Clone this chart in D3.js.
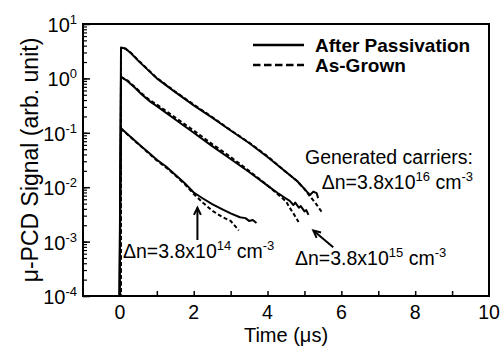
<!DOCTYPE html>
<html>
<head>
<meta charset="utf-8">
<script src="https://cdn.jsdelivr.net/npm/d3@7"></script>
<style>
  body { margin: 0; background: #fff; }
  text { font-family: "Liberation Sans", Arial, sans-serif; fill: #000; }
</style>
</head>
<body>
<div id="chart"></div>
<script>
// ---- data (time in us, signal in arb. unit) ----
// dn = 3.8e16 cm-3
var t16After = [-0.02, 0.03, 0.15, 0.3, 0.5, 0.75, 1.0, 1.5, 2.0, 2.5, 3.0, 3.5, 4.0, 4.5, 4.8, 5.0, 5.1, 5.15, 5.24, 5.33, 5.37];
var v16After = [1e-5, 3.7, 3.55, 2.9, 2.1, 1.45, 1.0, 0.56, 0.32, 0.19, 0.11, 0.065, 0.036, 0.019, 0.013, 0.0093, 0.0078, 0.0072, 0.0083, 0.0078, 0.0063];
var t16Grown = [0.02, 0.03, 0.15, 0.3, 0.5, 0.75, 1.0, 1.5, 2.0, 2.5, 3.0, 3.5, 4.0, 4.5, 4.8, 5.0, 5.15, 5.3, 5.47];
var v16Grown = [1e-5, 3.6, 3.5, 2.95, 2.15, 1.48, 1.02, 0.57, 0.33, 0.195, 0.112, 0.066, 0.037, 0.019, 0.013, 0.0092, 0.0068, 0.0051, 0.0035];

// dn = 3.8e15 cm-3
var t15After = [-0.02, 0.03, 0.2, 0.4, 0.6, 0.83, 1.0, 1.5, 2.0, 2.5, 3.0, 3.5, 4.0, 4.3, 4.5, 4.6, 4.7, 4.75, 4.85, 4.9, 5.0, 5.05, 5.11];
var v15After = [1e-5, 1.07, 0.9, 0.68, 0.5, 0.37, 0.31, 0.176, 0.1, 0.057, 0.033, 0.019, 0.0107, 0.0076, 0.0062, 0.0056, 0.0047, 0.0052, 0.0042, 0.0045, 0.0036, 0.0038, 0.0031];
var t15Grown = [0.02, 0.03, 0.2, 0.4, 0.6, 0.83, 1.0, 1.5, 2.0, 2.5, 3.0, 3.5, 4.0, 4.3, 4.5, 4.6, 4.7, 4.84];
var v15Grown = [1e-5, 1.05, 0.92, 0.7, 0.52, 0.39, 0.33, 0.19, 0.11, 0.062, 0.036, 0.02, 0.0108, 0.0072, 0.0055, 0.0042, 0.0033, 0.0023];

// dn = 3.8e14 cm-3
var t14After = [-0.02, 0.03, 0.2, 0.4, 0.6, 0.8, 1.0, 1.25, 1.5, 1.75, 2.0, 2.25, 2.5, 2.75, 3.0, 3.25, 3.4, 3.5, 3.6, 3.7];
var v14After = [1e-5, 0.121, 0.095, 0.072, 0.055, 0.042, 0.032, 0.024, 0.017, 0.012, 0.008, 0.0062, 0.0049, 0.004, 0.0033, 0.0028, 0.0027, 0.0024, 0.0025, 0.0022];
var t14Grown = [0.02, 0.03, 0.2, 0.4, 0.6, 0.8, 1.0, 1.25, 1.5, 1.75, 2.0, 2.25, 2.5, 2.75, 3.0, 3.1, 3.22];
var v14Grown = [1e-5, 0.118, 0.094, 0.071, 0.054, 0.041, 0.031, 0.023, 0.0165, 0.0115, 0.0075, 0.0052, 0.0037, 0.0029, 0.0024, 0.002, 0.0016];

// axis ticks
var xTicks = [0, 1, 2, 3, 4, 5, 6, 7, 8, 9];
var xLabels = [0, 2, 4, 6, 8, 10];
var yExponents = [1, 0, -1, -2, -3, -4];

var margin = { top: 24, right: 14, bottom: 51, left: 83 };
var w = 503, h = 347;
var width = w - margin.left - margin.right;
var height = h - margin.top - margin.bottom;

var svg = d3.select("#chart")
  .append("svg")
    .attr("width", w)
    .attr("height", h);

var chart = svg.append("g")
  .attr("transform", "translate(" + margin.left + "," + margin.top + ")");

var xScale = d3.scaleLinear().domain([-1, 10]).range([0, width]);
var yScale = d3.scaleLog().domain([1e-4, 10]).range([height, 0]);

svg.append("defs").append("clipPath").attr("id", "plotclip")
  .append("rect").attr("width", width).attr("height", height);

// x axis: inward ticks every 1 us, labels on even values
var xAxis = d3.axisBottom(xScale).tickValues(xTicks).tickSizeInner(-5).tickSizeOuter(0).tickFormat("");
chart.append("g").attr("transform", "translate(0," + height + ")").call(xAxis)
  .call(function(g) { g.select(".domain").remove(); })
  .selectAll("line").attr("stroke-width", 1.5);

chart.append("g").selectAll("text")
  .data(xLabels)
  .enter().append("text")
    .attr("x", function(d) { return xScale(d); })
    .attr("y", height + 23)
    .attr("text-anchor", "middle")
    .style("font-size", "19.5px")
    .text(function(d) { return d; });

// y axis: log minor ticks and major decades
var yMinor = d3.axisLeft(yScale).tickSizeInner(-4).tickSizeOuter(0).tickFormat("");
chart.append("g").call(yMinor)
  .call(function(g) { g.select(".domain").remove(); })
  .selectAll("line").attr("stroke-width", 1.2);

var yMajor = d3.axisLeft(yScale)
  .tickValues(yExponents.map(function(e) { return Math.pow(10, e); }))
  .tickSizeInner(-7).tickSizeOuter(0).tickFormat("");
chart.append("g").call(yMajor)
  .call(function(g) { g.select(".domain").remove(); })
  .selectAll("line").attr("stroke-width", 1.5);

var yLab = chart.append("g").selectAll("text")
  .data(yExponents)
  .enter().append("text")
    .attr("x", -6)
    .attr("y", function(d) { return yScale(Math.pow(10, d)) + 8; })
    .attr("text-anchor", "end")
    .style("font-size", "20px");
yLab.append("tspan").text("10");
yLab.append("tspan").attr("dy", -8).style("font-size", "13px").text(function(d) { return d; });

// frame
chart.append("rect")
  .attr("width", width).attr("height", height)
  .attr("fill", "none").attr("stroke", "#000").attr("stroke-width", 2);

// axis titles
svg.append("text")
  .attr("x", margin.left + xScale(4.5))
  .attr("y", 342)
  .attr("text-anchor", "middle")
  .style("font-size", "20px")
  .text("Time (\u03bcs)");

svg.append("text")
  .attr("transform", "translate(38," + (margin.top + height / 2) + ") rotate(-90)")
  .attr("text-anchor", "middle")
  .style("font-size", "23px")
  .text("\u03bc-PCD Signal (arb. unit)");

// curves
var series = [
  { t: t16After, v: v16After, dash: null },
  { t: t16Grown, v: v16Grown, dash: "4,2.5" },
  { t: t15After, v: v15After, dash: null },
  { t: t15Grown, v: v15Grown, dash: "4,2.5" },
  { t: t14After, v: v14After, dash: null },
  { t: t14Grown, v: v14Grown, dash: "4,2.5" }
];

var line = d3.line()
  .x(function(d) { return xScale(d[0]); })
  .y(function(d) { return yScale(d[1]); });

chart.append("g").attr("clip-path", "url(#plotclip)")
  .selectAll("path")
  .data(series)
  .enter().append("path")
    .attr("d", function(s) { return line(d3.zip(s.t, s.v)); })
    .attr("fill", "none")
    .attr("stroke", "#000")
    .attr("stroke-width", 2)
    .attr("stroke-linejoin", "round")
    .attr("stroke-dasharray", function(s) { return s.dash; });

// legend
var legend = svg.append("g");
legend.append("line").attr("x1", 253).attr("x2", 304).attr("y1", 45).attr("y2", 45)
  .attr("stroke", "#000").attr("stroke-width", 2.5);
legend.append("line").attr("x1", 253).attr("x2", 304).attr("y1", 65).attr("y2", 65)
  .attr("stroke", "#000").attr("stroke-width", 2.5).attr("stroke-dasharray", "7.5,3.5");
legend.append("text").attr("x", 315).attr("y", 52).style("font-size", "19px").style("font-weight", "bold")
  .text("After Passivation");
legend.append("text").attr("x", 315).attr("y", 72).style("font-size", "19px").style("font-weight", "bold")
  .text("As-Grown");

// annotations
function dnLabel(g, x, y, anchor, exp) {
  var t = g.append("text").attr("x", x).attr("y", y).attr("text-anchor", anchor).style("font-size", "19.5px");
  t.append("tspan").text("\u0394n=3.8x10");
  t.append("tspan").attr("dy", -8).style("font-size", "13px").text(exp);
  t.append("tspan").attr("dy", 8).text(" cm");
  t.append("tspan").attr("dy", -8).style("font-size", "13px").text("-3");
  return t;
}

var notes = svg.append("g");
notes.append("text").attr("x", 473).attr("y", 164).attr("text-anchor", "end").style("font-size", "19.5px")
  .text("Generated carriers:");
dnLabel(notes, 473, 189, "end", "16");
dnLabel(notes, 295, 265, "start", "15");
dnLabel(notes, 123, 258, "start", "14");

function arrow(x1, y1, x2, y2) {
  var ang = Math.atan2(y2 - y1, x2 - x1), L = 8, a = 0.45;
  notes.append("line").attr("x1", x1).attr("y1", y1).attr("x2", x2).attr("y2", y2)
    .attr("stroke", "#000").attr("stroke-width", 2);
  notes.append("path")
    .attr("d", "M" + (x2 - L * Math.cos(ang - a)) + "," + (y2 - L * Math.sin(ang - a)) +
               "L" + x2 + "," + y2 +
               "L" + (x2 - L * Math.cos(ang + a)) + "," + (y2 - L * Math.sin(ang + a)))
    .attr("fill", "none").attr("stroke", "#000").attr("stroke-width", 2);
}
arrow(margin.left + xScale(2.1), margin.top + yScale(1.07e-3), margin.left + xScale(2.1), margin.top + yScale(4.2e-3));
arrow(margin.left + xScale(5.78), margin.top + yScale(7.9e-4), margin.left + xScale(5.24), margin.top + yScale(1.6e-3));
</script>
</body>
</html>
